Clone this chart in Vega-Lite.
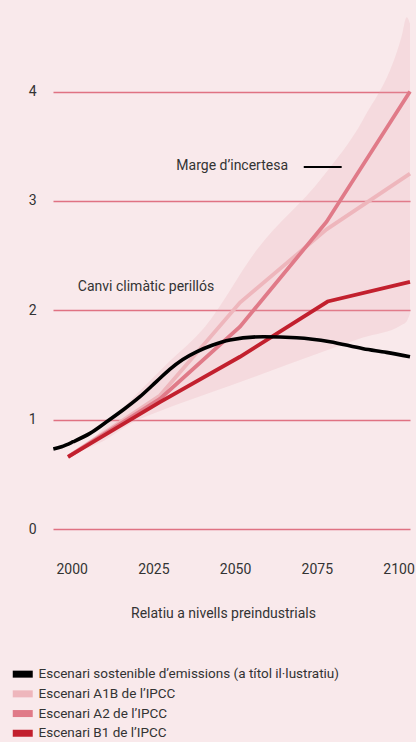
{
  "$schema": "https://vega.github.io/schema/vega-lite/v6.json",
  "width": 357,
  "height": 529,
  "autosize": "none",
  "padding": {"left": 53, "top": 0, "right": 6, "bottom": 213},
  "background": "#f9e9eb",
  "config": {
    "view": {"stroke": null},
    "font": "Roboto",
    "text": {"font": "Roboto", "color": "#333333"}
  },
  "datasets": {
    "band": [
      {"year": 1998.9, "lo": 0.66, "hi": 0.66},
      {"year": 2005, "lo": 0.74, "hi": 0.78},
      {"year": 2010, "lo": 0.81, "hi": 0.93},
      {"year": 2017.8, "lo": 0.96, "hi": 1.17},
      {"year": 2028.8, "lo": 1.1, "hi": 1.5},
      {"year": 2040.8, "lo": 1.23, "hi": 1.85},
      {"year": 2056.6, "lo": 1.4, "hi": 2.55},
      {"year": 2076.8, "lo": 1.62, "hi": 3.22},
      {"year": 2089.1, "lo": 1.75, "hi": 3.74},
      {"year": 2100.9, "lo": 1.865, "hi": 4.5},
      {"year": 2102.5, "lo": 1.9, "hi": 4.68},
      {"year": 2103.5, "lo": 1.97, "hi": 4.62}
    ],
    "lines": [
      {"series": "Escenari A1B de l’IPCC", "year": 1998.9, "value": 0.66},
      {"series": "Escenari A1B de l’IPCC", "year": 2027.0, "value": 1.22},
      {"series": "Escenari A1B de l’IPCC", "year": 2051.5, "value": 2.07},
      {"series": "Escenari A1B de l’IPCC", "year": 2078.0, "value": 2.74},
      {"series": "Escenari A1B de l’IPCC", "year": 2103.5, "value": 3.25},
      {"series": "Escenari A2 de l’IPCC", "year": 1998.9, "value": 0.66},
      {"series": "Escenari A2 de l’IPCC", "year": 2027.0, "value": 1.19},
      {"series": "Escenari A2 de l’IPCC", "year": 2051.5, "value": 1.85},
      {"series": "Escenari A2 de l’IPCC", "year": 2078.0, "value": 2.81},
      {"series": "Escenari A2 de l’IPCC", "year": 2103.5, "value": 4.0},
      {"series": "Escenari B1 de l’IPCC", "year": 1998.9, "value": 0.66},
      {"series": "Escenari B1 de l’IPCC", "year": 2027.0, "value": 1.16},
      {"series": "Escenari B1 de l’IPCC", "year": 2051.5, "value": 1.575},
      {"series": "Escenari B1 de l’IPCC", "year": 2078.3, "value": 2.08},
      {"series": "Escenari B1 de l’IPCC", "year": 2103.5, "value": 2.26}
    ],
    "black": [
      {"series": "Escenari sostenible d’emissions (a títol il·lustratiu)", "year": 1994.4, "value": 0.731},
      {"series": "Escenari sostenible d’emissions (a títol il·lustratiu)", "year": 1996.9, "value": 0.752},
      {"series": "Escenari sostenible d’emissions (a títol il·lustratiu)", "year": 2000.5, "value": 0.798},
      {"series": "Escenari sostenible d’emissions (a títol il·lustratiu)", "year": 2005.6, "value": 0.874},
      {"series": "Escenari sostenible d’emissions (a títol il·lustratiu)", "year": 2010.7, "value": 0.98},
      {"series": "Escenari sostenible d’emissions (a títol il·lustratiu)", "year": 2015.8, "value": 1.09},
      {"series": "Escenari sostenible d’emissions (a títol il·lustratiu)", "year": 2020.9, "value": 1.21},
      {"series": "Escenari sostenible d’emissions (a títol il·lustratiu)", "year": 2026.0, "value": 1.35},
      {"series": "Escenari sostenible d’emissions (a títol il·lustratiu)", "year": 2030.0, "value": 1.46},
      {"series": "Escenari sostenible d’emissions (a títol il·lustratiu)", "year": 2034.0, "value": 1.55},
      {"series": "Escenari sostenible d’emissions (a títol il·lustratiu)", "year": 2038.2, "value": 1.62},
      {"series": "Escenari sostenible d’emissions (a títol il·lustratiu)", "year": 2043.0, "value": 1.68},
      {"series": "Escenari sostenible d’emissions (a títol il·lustratiu)", "year": 2048.4, "value": 1.728},
      {"series": "Escenari sostenible d’emissions (a títol il·lustratiu)", "year": 2058.6, "value": 1.758},
      {"series": "Escenari sostenible d’emissions (a títol il·lustratiu)", "year": 2068.8, "value": 1.749},
      {"series": "Escenari sostenible d’emissions (a títol il·lustratiu)", "year": 2079.0, "value": 1.713},
      {"series": "Escenari sostenible d’emissions (a títol il·lustratiu)", "year": 2089.2, "value": 1.648},
      {"series": "Escenari sostenible d’emissions (a títol il·lustratiu)", "year": 2096.3, "value": 1.615},
      {"series": "Escenari sostenible d’emissions (a títol il·lustratiu)", "year": 2103.5, "value": 1.575}
    ],
    "marker": [{"x1": 2071.0, "x2": 2082.6, "v": 3.31}],
    "labelR": [{"label": "Marge d’incertesa", "year": 2066.2, "value": 3.32}],
    "labelL": [{"label": "Canvi climàtic perillós", "year": 2001.9, "value": 2.215}]
  },
  "layer": [
    {
      "data": {"name": "band"},
      "mark": {"type": "area", "color": "#e5a1aa", "opacity": 0.2, "interpolate": "monotone"},
      "encoding": {
        "x": {"field": "year", "type": "quantitative", "scale": {"domain": [1994.3, 2103.5], "nice": false, "zero": false},
          "axis": {"values": [2000, 2025, 2050, 2075, 2100], "format": "d", "grid": false, "domain": false, "ticks": false, "tickSize": 0,
            "labelFontSize": 14, "labelColor": "#333333", "labelPadding": 33, "labelFont": "Roboto",
            "title": "Relatiu a nivells preindustrials", "titleFontSize": 14, "titleFontWeight": "normal", "titleColor": "#333333",
            "titleFont": "Roboto", "titleX": 170, "titleY": 84, "titleAlign": "center", "titleBaseline": "middle"}},
        "y": {"field": "hi", "type": "quantitative", "scale": {"domain": [0, 4.837], "nice": false},
          "axis": {"values": [0, 1, 2, 3, 4], "format": "d", "grid": true, "gridColor": "#e07282", "gridWidth": 1.5, "domain": false, "ticks": false, "tickSize": 0,
            "labelFontSize": 14, "labelColor": "#333333", "labelPadding": 17, "labelFont": "Roboto", "title": null}},
        "y2": {"field": "lo"}
      }
    },
    {
      "data": {"name": "lines"},
      "mark": {"type": "line", "strokeWidth": 3.8, "strokeCap": "butt"},
      "encoding": {
        "x": {"field": "year", "type": "quantitative"},
        "y": {"field": "value", "type": "quantitative"},
        "color": {"field": "series", "type": "nominal",
          "scale": {"domain": ["Escenari sostenible d’emissions (a títol il·lustratiu)", "Escenari A1B de l’IPCC", "Escenari A2 de l’IPCC", "Escenari B1 de l’IPCC"],
            "range": ["#000000", "#eeb6bc", "#e07a88", "#c2202e"]},
          "legend": {"title": null, "orient": "none", "legendX": -37, "legendY": 667.4, "padding": 0,
            "symbolType": "M-2,-0.7H2V0.7H-2Z", "symbolSize": 100, "labelFontSize": 13.5, "labelColor": "#333333", "labelFont": "Roboto",
            "labelOffset": 9, "rowPadding": 4.7, "labelLimit": 400,
            "encode": {"symbols": {"update": {"fill": {"scale": "color", "field": "value"}, "fillOpacity": {"value": 1}, "strokeWidth": {"value": 0}, "stroke": {"value": "transparent"}}}}}
        }
      }
    },
    {
      "data": {"name": "black"},
      "mark": {"type": "line", "strokeWidth": 3.6, "strokeCap": "butt", "interpolate": "monotone"},
      "encoding": {
        "x": {"field": "year", "type": "quantitative"},
        "y": {"field": "value", "type": "quantitative"},
        "color": {"field": "series", "type": "nominal"}
      }
    },
    {
      "data": {"name": "marker"},
      "mark": {"type": "rule", "color": "#000000", "strokeWidth": 2},
      "encoding": {
        "x": {"field": "x1", "type": "quantitative"},
        "x2": {"field": "x2"},
        "y": {"field": "v", "type": "quantitative"}
      }
    },
    {
      "data": {"name": "labelR"},
      "mark": {"type": "text", "fontSize": 14, "baseline": "middle", "align": "right", "color": "#333333", "font": "Roboto"},
      "encoding": {
        "x": {"field": "year", "type": "quantitative"},
        "y": {"field": "value", "type": "quantitative"},
        "text": {"field": "label"}
      }
    },
    {
      "data": {"name": "labelL"},
      "mark": {"type": "text", "fontSize": 14, "baseline": "middle", "align": "left", "color": "#333333", "font": "Roboto"},
      "encoding": {
        "x": {"field": "year", "type": "quantitative"},
        "y": {"field": "value", "type": "quantitative"},
        "text": {"field": "label"}
      }
    }
  ]
}
